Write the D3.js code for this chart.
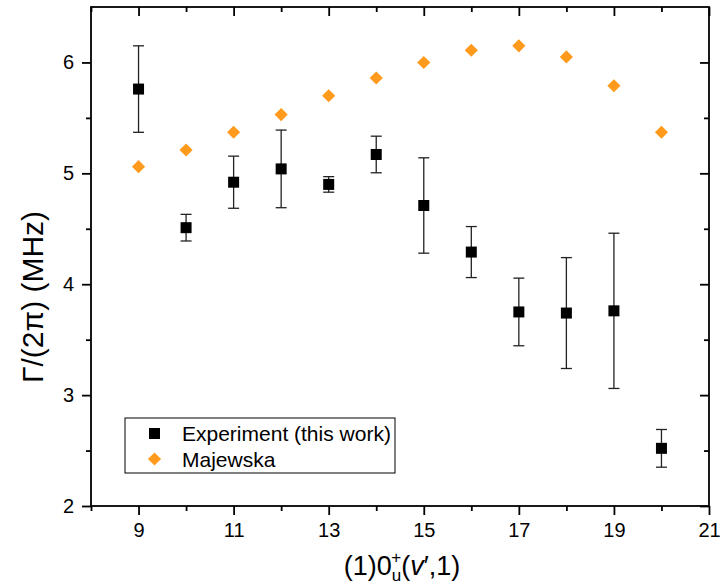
<!DOCTYPE html>
<html>
<head>
<meta charset="utf-8">
<script src="https://cdn.jsdelivr.net/npm/d3@7/dist/d3.min.js"></script>
<style>
  body { margin: 0; background: #fff; }
  svg text { font-family: "Liberation Sans", Arial, sans-serif; fill: #000; }
</style>
</head>
<body>
<div id="chart"></div>
<script>
// data
const vib = [9, 10, 11, 12, 13, 14, 15, 16, 17, 18, 19, 20];
const expVal = [5.76, 4.51, 4.92, 5.04, 4.90, 5.17, 4.71, 4.29, 3.75, 3.74, 3.76, 2.52];
const expErr = [0.39, 0.12, 0.235, 0.35, 0.07, 0.165, 0.43, 0.23, 0.305, 0.50, 0.70, 0.17];
const majVal = [5.06, 5.21, 5.37, 5.53, 5.70, 5.86, 6.00, 6.11, 6.15, 6.05, 5.79, 5.37];
const xTicks = [9, 11, 13, 15, 17, 19, 21];
const yTicks = [2, 3, 4, 5, 6];

const W = 722, H = 586;
const margin = {left: 91, right: 13, top: 7, bottom: 80};
const orange = "#ff9a1c";

const svg = d3.select("#chart").append("svg")
    .attr("width", W).attr("height", H);

const x = d3.scaleLinear().domain([8, 21]).range([margin.left, W - margin.right]);
const y = d3.scaleLinear().domain([2, 6.5]).range([H - margin.bottom, margin.top]);

const xMinor = d3.range(8, 21.01, 1).filter(v => !xTicks.includes(v));
const yMinor = d3.range(2.5, 6.5, 1);

// axes
function styleAxis(sel) {
    sel.selectAll(".domain").remove();
    sel.selectAll("line").attr("stroke", "#000").attr("stroke-width", 1.8);
    sel.selectAll("text").style("font-size", "20px");
}

const gx = svg.append("g").attr("transform", `translate(0,${y(2)})`);
gx.call(d3.axisBottom(x).tickValues(xTicks).tickSize(9).tickPadding(8).tickFormat(d3.format("d")));
gx.append("g").call(d3.axisBottom(x).tickValues(xMinor).tickSize(5).tickFormat(""));
styleAxis(gx);

const gy = svg.append("g").attr("transform", `translate(${x(8)},0)`);
gy.call(d3.axisLeft(y).tickValues(yTicks).tickSize(9).tickPadding(8).tickFormat(d3.format("d")));
gy.append("g").call(d3.axisLeft(y).tickValues(yMinor).tickSize(5).tickFormat(""));
styleAxis(gy);

const gt = svg.append("g").attr("transform", `translate(0,${y(6.5)})`);
gt.call(d3.axisBottom(x).tickValues(xTicks).tickSize(9).tickFormat(""));
gt.append("g").call(d3.axisBottom(x).tickValues(xMinor).tickSize(5).tickFormat(""));
styleAxis(gt);

const gr = svg.append("g").attr("transform", `translate(${x(21)},0)`);
gr.call(d3.axisLeft(y).tickValues(yTicks).tickSize(9).tickFormat(""));
gr.append("g").call(d3.axisLeft(y).tickValues(yMinor).tickSize(5).tickFormat(""));
styleAxis(gr);

// frame
svg.append("rect")
    .attr("x", x(8)).attr("y", y(6.5))
    .attr("width", x(21) - x(8)).attr("height", y(2) - y(6.5))
    .attr("fill", "none").attr("stroke", "#000").attr("stroke-width", 1.8);

// Majewska diamonds
const diamond = d3.symbol().type(d3.symbolDiamond2).size(110);
svg.append("g").selectAll("path")
    .data(vib.map((v, i) => [v, majVal[i]]))
    .join("path")
    .attr("d", diamond)
    .attr("transform", d => `translate(${x(d[0])},${y(d[1])})`)
    .attr("fill", orange);

// experiment with error bars
const expData = vib.map((v, i) => ({v: v, val: expVal[i], err: expErr[i]}));
const eb = svg.append("g").attr("stroke", "#222").attr("stroke-width", 1.3);
eb.selectAll("line.bar").data(expData).join("line")
    .attr("x1", d => x(d.v)).attr("x2", d => x(d.v))
    .attr("y1", d => y(d.val - d.err)).attr("y2", d => y(d.val + d.err));
eb.selectAll("line.top").data(expData).join("line").attr("class", "top")
    .attr("x1", d => x(d.v) - 5.5).attr("x2", d => x(d.v) + 5.5)
    .attr("y1", d => y(d.val + d.err)).attr("y2", d => y(d.val + d.err));
eb.selectAll("line.bot").data(expData).join("line").attr("class", "bot")
    .attr("x1", d => x(d.v) - 5.5).attr("x2", d => x(d.v) + 5.5)
    .attr("y1", d => y(d.val - d.err)).attr("y2", d => y(d.val - d.err));

svg.append("g").selectAll("rect").data(expData).join("rect")
    .attr("x", d => x(d.v) - 5.5).attr("y", d => y(d.val) - 5.5)
    .attr("width", 11).attr("height", 11)
    .attr("fill", "#000");

// legend
const lg = svg.append("g").attr("transform", "translate(125,418)");
lg.append("rect").attr("width", 270).attr("height", 55)
    .attr("fill", "#fff").attr("stroke", "#000").attr("stroke-width", 1);
lg.append("rect").attr("x", 24).attr("y", 10).attr("width", 11).attr("height", 11).attr("fill", "#000");
lg.append("path").attr("d", diamond)
    .attr("transform", "translate(29.5,41)")
    .attr("fill", orange);
lg.append("text").attr("x", 57).attr("y", 23).style("font-size", "21px").text("Experiment (this work)");
lg.append("text").attr("x", 57).attr("y", 49).style("font-size", "21px").text("Majewska");

// axis titles
svg.append("text")
    .attr("transform", "translate(32,297) rotate(-90)")
    .attr("dy", "0.35em")
    .attr("text-anchor", "middle")
    .style("font-size", "30px")
    .text("Γ/(2π) (MHz)");

const xt = svg.append("text")
    .attr("x", 402).attr("y", 575)
    .attr("text-anchor", "middle")
    .style("font-size", "27px");
xt.append("tspan").text("(1)0");
xt.append("tspan").attr("dy", 6).style("font-size", "17px").text("u");
xt.append("tspan").attr("dx", -10).attr("dy", -18).style("font-size", "17px").text("+");
xt.append("tspan").attr("dy", 12).text("(");
xt.append("tspan").style("font-style", "italic").text("v");
xt.append("tspan").text("′,1)");
</script>
</body>
</html>
